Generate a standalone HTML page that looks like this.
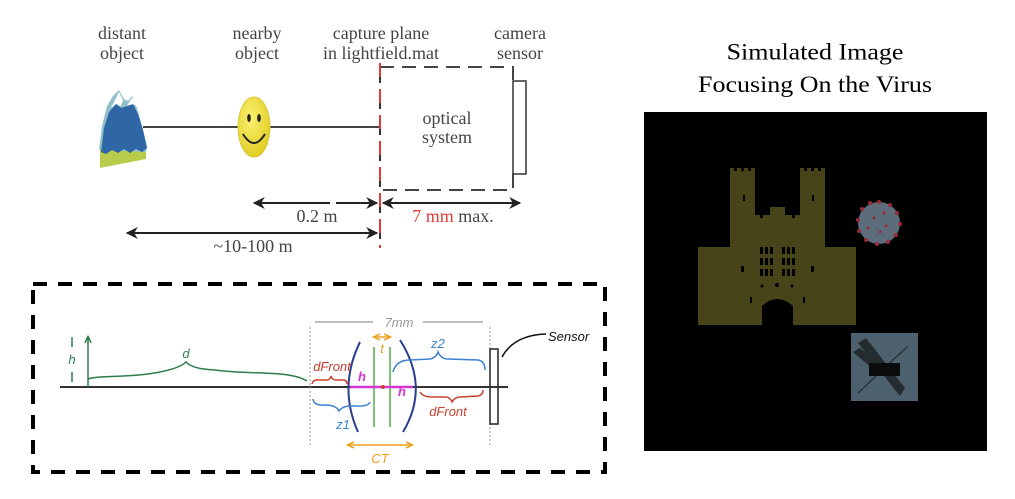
<!DOCTYPE html>
<html><head><meta charset="utf-8"><style>
html,body{margin:0;padding:0;background:#fff;}
svg{display:block;}
.t{font-family:"Liberation Serif",serif;font-size:18px;fill:#444;}
.h{font-family:"Liberation Sans",sans-serif;font-style:italic;font-size:13px;}
</style></head><body>
<svg width="1015" height="499" viewBox="0 0 1015 499" xmlns="http://www.w3.org/2000/svg">
<defs>
<marker id="ah" viewBox="0 0 10 10" refX="9" refY="5" markerWidth="6" markerHeight="6" orient="auto-start-reverse"><path d="M0,0 L10,5 L0,10 L3,5 z" fill="#222"/></marker>
<marker id="ao" viewBox="0 0 10 10" refX="8" refY="5" markerWidth="5" markerHeight="5" orient="auto-start-reverse"><path d="M0,1 L9,5 L0,9" fill="none" stroke="#f0a020" stroke-width="2"/></marker>
<marker id="ag" viewBox="0 0 10 10" refX="8" refY="5" markerWidth="5" markerHeight="5" orient="auto-start-reverse"><path d="M0,1 L9,5 L0,9" fill="none" stroke="#2e7d4f" stroke-width="2"/></marker>
<radialGradient id="sg" cx="0.4" cy="0.35" r="0.7"><stop offset="0" stop-color="#faf070"/><stop offset="1" stop-color="#e0cc20"/></radialGradient>
</defs>
<rect width="1015" height="499" fill="#fff"/>

<!-- ===== Top diagram ===== -->
<text class="t" x="122" y="39" text-anchor="middle">distant</text>
<text class="t" x="122" y="59" text-anchor="middle">object</text>
<text class="t" x="257" y="39" text-anchor="middle">nearby</text>
<text class="t" x="257" y="59" text-anchor="middle">object</text>
<text class="t" x="381" y="39" text-anchor="middle">capture plane</text>
<text class="t" x="381" y="59" text-anchor="middle">in lightfield.mat</text>
<text class="t" x="520" y="39" text-anchor="middle">camera</text>
<text class="t" x="520" y="59" text-anchor="middle">sensor</text>

<!-- main line -->
<line x1="143" y1="127" x2="380" y2="127" stroke="#444" stroke-width="2"/>

<!-- mountain -->
<polygon points="100,168 100,148 146,146 146,159" fill="#b8cc4c"/>
<polygon points="99,150 102,126 107,106 113,96 119,90 124,99 128,101 132,96 137,108 142,126 147,146 146,152" fill="#8fc0c8"/>
<polygon points="101,152 104,128 109,112 116,104 121,108 127,106 133,104 138,114 143,130 147,148 142,152 136,149 130,153 124,149 118,153 112,150 106,154" fill="#2e66a6"/>
<polygon points="111,108 116,98 119,92 123,100 121,106 116,104" fill="#ffffff"/>
<polygon points="127,106 131,99 133,98 136,106 133,104" fill="#ffffff"/>

<!-- smiley -->
<ellipse cx="254" cy="127" rx="16" ry="30" fill="url(#sg)" stroke="#d8c840" stroke-width="1"/>
<ellipse cx="249" cy="118" rx="1.8" ry="4" fill="#222"/>
<ellipse cx="259" cy="118" rx="1.8" ry="4" fill="#222"/>
<path d="M243,134 Q254,152 265,134" fill="none" stroke="#222" stroke-width="2"/>

<!-- dashed optical system box -->
<path d="M380,67 H513 V81 M513,174 V190 H380" fill="none" stroke="#444" stroke-width="2" stroke-dasharray="14 8"/>
<rect x="513" y="81" width="13" height="93" fill="#fff" stroke="#333" stroke-width="1.5"/>
<text class="t" x="447" y="124" text-anchor="middle">optical</text>
<text class="t" x="447" y="143" text-anchor="middle">system</text>

<!-- capture plane line -->
<line x1="380" y1="63" x2="380" y2="248" stroke="#333" stroke-width="2" stroke-dasharray="6 20" stroke-dashoffset="-14"/>
<line x1="380" y1="63" x2="380" y2="248" stroke="#e03a3a" stroke-width="2" stroke-dasharray="14 12"/>

<!-- arrows -->
<line x1="254" y1="203" x2="377" y2="203" stroke="#222" stroke-width="2" marker-start="url(#ah)" marker-end="url(#ah)"/>
<rect x="330" y="200" width="6" height="6" fill="#fff"/>
<line x1="383" y1="203" x2="520" y2="203" stroke="#222" stroke-width="2" marker-start="url(#ah)" marker-end="url(#ah)"/>
<line x1="127" y1="233" x2="377" y2="233" stroke="#222" stroke-width="2" marker-start="url(#ah)" marker-end="url(#ah)"/>
<text class="t" x="317" y="222" text-anchor="middle">0.2 m</text>
<text class="t" x="453" y="222" text-anchor="middle"><tspan fill="#e03a3a">7 mm</tspan> max.</text>
<text class="t" x="253" y="252" text-anchor="middle">~10-100 m</text>

<!-- ===== Bottom diagram ===== -->
<rect x="33" y="284" width="572" height="188" fill="none" stroke="#000" stroke-width="4" stroke-dasharray="14 11"/>

<!-- axis -->
<line x1="60" y1="387" x2="508" y2="387" stroke="#333" stroke-width="2"/>

<!-- object arrow h -->
<line x1="88" y1="387" x2="88" y2="337" stroke="#2e7d4f" stroke-width="1.5" marker-end="url(#ag)"/>
<line x1="72" y1="337" x2="72" y2="347" stroke="#2e7d4f" stroke-width="1.5"/>
<line x1="72" y1="372" x2="72" y2="382" stroke="#2e7d4f" stroke-width="1.5"/>
<text class="h" x="72" y="364" text-anchor="middle" fill="#2e7d4f">h</text>

<!-- d brace -->
<path d="M88,379 C100,375 130,378 160,372 Q180,368 186,362 Q192,369 215,370 C250,375 290,370 307,381" fill="none" stroke="#2e7d4f" stroke-width="1.5"/>
<text class="h" x="186" y="358" text-anchor="middle" fill="#2e7d4f" font-size="16">d</text>

<!-- 7mm gray -->
<line x1="315" y1="322" x2="373" y2="322" stroke="#aaa" stroke-width="1.5"/>
<line x1="423" y1="322" x2="483" y2="322" stroke="#aaa" stroke-width="1.5"/>
<text class="h" x="399" y="327" text-anchor="middle" fill="#999">7mm</text>
<line x1="310" y1="327" x2="310" y2="446" stroke="#aaa" stroke-width="1.2" stroke-dasharray="2 2"/>
<line x1="490" y1="327" x2="490" y2="446" stroke="#aaa" stroke-width="1.2" stroke-dasharray="2 2"/>

<!-- lenses -->
<path d="M360,342 Q338,387 358,432" fill="none" stroke="#2a3f8f" stroke-width="2"/>
<path d="M400,340 Q430,387 403,432" fill="none" stroke="#2a3f8f" stroke-width="2"/>
<line x1="374" y1="347" x2="374" y2="427" stroke="#6cc060" stroke-width="1.8"/>
<line x1="390" y1="347" x2="390" y2="427" stroke="#6cc060" stroke-width="1.8"/>
<line x1="350" y1="387" x2="413" y2="387" stroke="#d633d6" stroke-width="2.5"/>
<circle cx="383" cy="387" r="2" fill="#c8402a"/>
<text class="h" x="362" y="381" text-anchor="middle" fill="#d633d6" font-weight="bold">h</text>
<text class="h" x="402" y="396" text-anchor="middle" fill="#d633d6" font-weight="bold">h</text>

<!-- t arrow -->
<line x1="374" y1="337" x2="390" y2="337" stroke="#f0a020" stroke-width="1.5" marker-start="url(#ao)" marker-end="url(#ao)"/>
<text class="h" x="382" y="353" text-anchor="middle" fill="#f0a020">t</text>

<!-- CT arrow -->
<line x1="348" y1="445" x2="412" y2="445" stroke="#f0a020" stroke-width="1.5" marker-start="url(#ao)" marker-end="url(#ao)"/>
<text class="h" x="380" y="463" text-anchor="middle" fill="#f0a020">CT</text>

<!-- left dFront brace -->
<path d="M312,384 Q313,379 320,380 L327,380 Q330,380 331,376 Q332,380 336,380 L343,380 Q347,380 347,384" fill="none" stroke="#c8402a" stroke-width="1.5"/>
<text class="h" x="332" y="371" text-anchor="middle" fill="#c8402a">dFront</text>

<!-- z1 brace -->
<path d="M313,399 Q314,406 325,405 Q336,405 339,411 Q343,405 355,406 Q368,407 370,402" fill="none" stroke="#3b82d0" stroke-width="1.5"/>
<text class="h" x="343" y="429" text-anchor="middle" fill="#3b82d0">z1</text>

<!-- z2 brace -->
<path d="M393,372 Q396,360 410,360 L430,359 Q436,358 438,352 Q441,359 448,359 L478,360 Q485,361 485,370" fill="none" stroke="#3b82d0" stroke-width="1.5"/>
<text class="h" x="438" y="348" text-anchor="middle" fill="#3b82d0">z2</text>

<!-- right dFront brace -->
<path d="M420,392 Q423,397 432,397 L446,397 Q450,397 452,402 Q455,397 460,397 L478,396 Q483,395 483,390" fill="none" stroke="#c8402a" stroke-width="1.5"/>
<text class="h" x="448" y="416" text-anchor="middle" fill="#c8402a">dFront</text>

<!-- sensor -->
<rect x="490" y="349" width="8" height="75" fill="#fff" stroke="#222" stroke-width="1.5"/>
<line x1="486" y1="387" x2="508" y2="387" stroke="#333" stroke-width="2"/>
<path d="M502,357 Q514,335 546,334" fill="none" stroke="#111" stroke-width="1.5"/>
<text class="h" x="548" y="341" fill="#111" font-size="13">Sensor</text>

<!-- ===== Right panel ===== -->
<g transform="translate(815,0) scale(1,0.9) translate(-815,0)">
<text x="815" y="66" text-anchor="middle" font-family="'Liberation Serif',serif" font-size="26" fill="#000">Simulated Image</text>
<text x="815" y="102" text-anchor="middle" font-family="'Liberation Serif',serif" font-size="26" fill="#000">Focusing On the Virus</text>
</g>

<rect x="644" y="112" width="343" height="339" fill="#000"/>

<!-- castle -->
<g fill="#48441a">
<rect x="698" y="247" width="158" height="78"/>
<rect x="730" y="168" width="25" height="80"/>
<rect x="800" y="168" width="25" height="80"/>
<rect x="755" y="215" width="45" height="33"/>
<rect x="770" y="207" width="15" height="10"/>
</g>
<g fill="#000">
<rect x="734" y="168" width="3" height="3"/><rect x="741" y="168" width="3" height="3"/><rect x="748" y="168" width="3" height="3"/>
<rect x="804" y="168" width="3" height="3"/><rect x="811" y="168" width="3" height="3"/><rect x="818" y="168" width="3" height="3"/>
<rect x="760" y="215" width="3" height="3"/><rect x="792" y="215" width="3" height="3"/>
<path d="M762,325 V306 Q777,292 793,306 V325 Z"/>
<rect x="760" y="247" width="3" height="7"/><rect x="765" y="247" width="3" height="7"/><rect x="770" y="247" width="3" height="7"/>
<rect x="782" y="247" width="3" height="7"/><rect x="787" y="247" width="3" height="7"/><rect x="792" y="247" width="3" height="7"/>
<rect x="760" y="258" width="3" height="7"/><rect x="765" y="258" width="3" height="7"/><rect x="770" y="258" width="3" height="7"/>
<rect x="782" y="258" width="3" height="7"/><rect x="787" y="258" width="3" height="7"/><rect x="792" y="258" width="3" height="7"/>
<rect x="760" y="269" width="3" height="7"/><rect x="765" y="269" width="3" height="7"/><rect x="770" y="269" width="3" height="7"/>
<rect x="782" y="269" width="3" height="7"/><rect x="787" y="269" width="3" height="7"/><rect x="792" y="269" width="3" height="7"/>
<circle cx="762" cy="286" r="1.5"/><circle cx="777" cy="285" r="2"/><circle cx="792" cy="286" r="1.5"/>
<rect x="741" y="266" width="3" height="6"/><rect x="811" y="266" width="3" height="6"/>
<rect x="743" y="195" width="2" height="6"/><rect x="812" y="195" width="2" height="6"/>
<rect x="750" y="297" width="2" height="6"/><rect x="803" y="297" width="2" height="6"/>
</g>

<!-- virus -->
<circle cx="879" cy="223" r="21" fill="#5c6c7a"/>
<g fill="#9a2a35">
<circle cx="879" cy="202" r="2"/><circle cx="890" cy="205" r="2"/><circle cx="897" cy="213" r="2"/>
<circle cx="900" cy="224" r="2"/><circle cx="896" cy="235" r="2"/><circle cx="888" cy="242" r="2"/>
<circle cx="877" cy="244" r="2"/><circle cx="866" cy="240" r="2"/><circle cx="859" cy="231" r="2"/>
<circle cx="858" cy="220" r="2"/><circle cx="862" cy="209" r="2"/><circle cx="870" cy="203" r="2"/>
<circle cx="874" cy="218" r="1.5"/><circle cx="886" cy="226" r="1.5"/><circle cx="880" cy="232" r="1.5"/><circle cx="868" cy="228" r="1.5"/><circle cx="884" cy="213" r="1.5"/>
</g>

<!-- square -->
<rect x="851" y="333" width="67" height="68" fill="#4c606d"/>
<path d="M858,343 L866,338 L905,388 L900,396 Z" fill="#252c30"/>
<path d="M853,352 L860,348 L880,364 L874,370 Z" fill="#252c30"/>
<line x1="858" y1="393" x2="908" y2="346" stroke="#1e2427" stroke-width="1"/>
<rect x="869" y="363" width="31" height="13" fill="#0a0c0d"/>
</svg>
</body></html>
